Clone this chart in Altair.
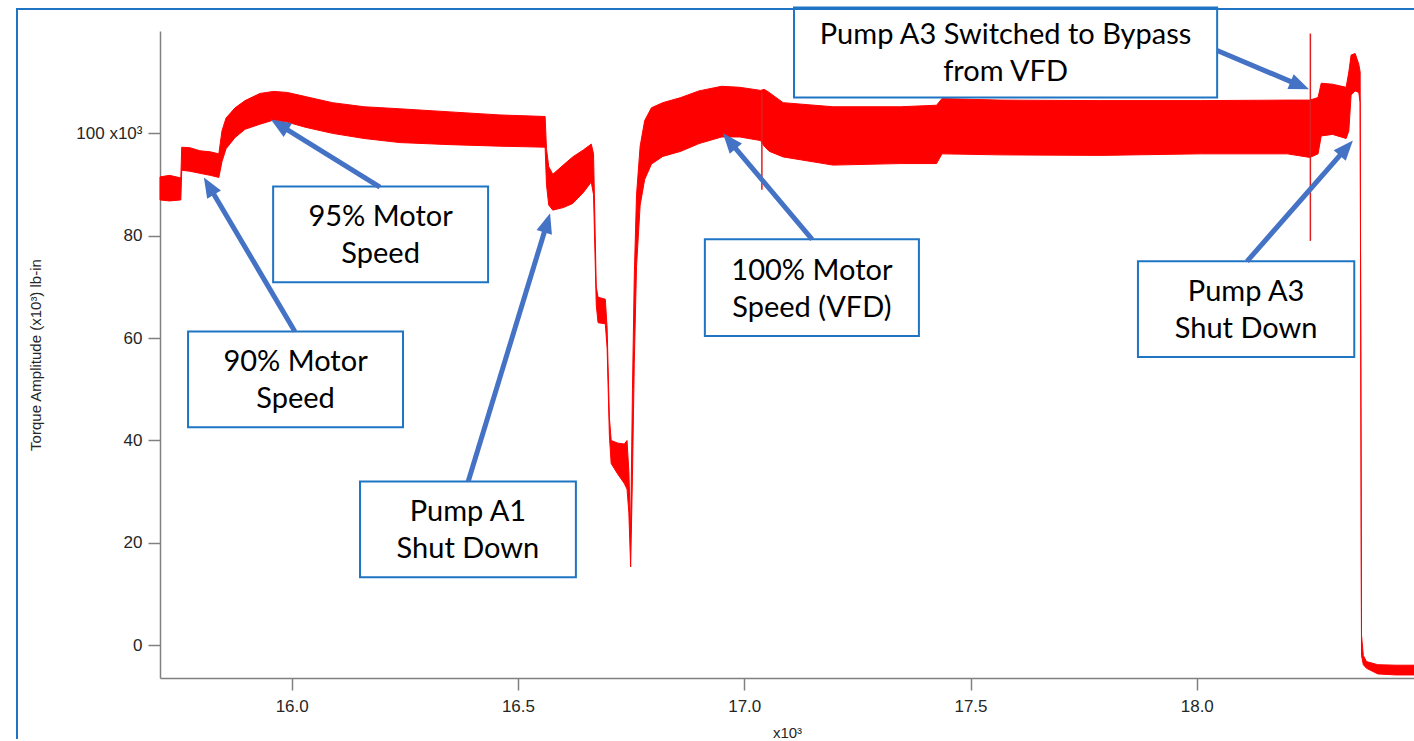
import math

import altair as alt
import pandas as pd

# ---------------------------------------------------------------------------
# Torque amplitude record (time in x10^3 s, torque in x10^3 lb-in).
# The signal oscillates quickly, so each sample stores the lower and upper
# edge of the oscillation band.
# ---------------------------------------------------------------------------
time_k = [
    15.709, 15.730, 15.755, 15.757, 15.775, 15.797, 15.820, 15.839, 15.846, 15.855,
    15.875, 15.897, 15.930, 15.960, 15.990, 16.030, 16.090, 16.160, 16.239, 16.350,
    16.460, 16.560, 16.563, 16.568, 16.577, 16.600, 16.621, 16.645, 16.662, 16.667,
    16.673, 16.677, 16.693, 16.697, 16.702, 16.706, 16.720, 16.735, 16.741, 16.745,
    16.749, 16.753, 16.757, 16.762, 16.770, 16.780, 16.795, 16.820, 16.860, 16.900,
    16.950, 16.990, 17.036, 17.044, 17.055, 17.086, 17.196, 17.345, 17.425, 17.437,
    17.565, 17.787, 18.008, 18.200, 18.250, 18.268, 18.275, 18.300, 18.330, 18.336,
    18.341, 18.350, 18.358, 18.361, 18.364, 18.368, 18.375, 18.400, 18.440, 18.480,
]
torque_low = [
    87.0, 86.8, 87.0, 92.8, 92.6, 92.2, 91.8, 91.4, 94.5, 97.0,
    99.2, 100.8, 101.8, 102.6, 102.2, 101.2, 100.0, 99.0, 98.2, 97.8,
    97.5, 97.3, 90.0, 86.0, 85.0, 85.5, 86.3, 88.5, 90.5, 88.0,
    66.5, 63.0, 62.8, 58.0, 41.0, 35.5, 33.5, 31.6, 30.5, 26.0,
    15.3, 33.0, 55.0, 74.0, 86.0, 91.0, 94.0, 95.5, 96.5, 98.0,
    99.3, 99.3, 98.6, 97.5, 96.5, 95.4, 93.8, 94.1, 94.1, 96.0,
    95.8, 95.7, 96.0, 96.0, 95.3, 96.0, 99.5, 99.8, 99.0, 100.5,
    107.5, 108.3, 108.0, 106.0, -2.0, -3.8, -4.5, -5.6, -5.8, -5.8,
]
torque_high = [
    91.5, 91.8, 91.3, 97.3, 97.2, 96.6, 96.4, 96.0, 100.5, 103.0,
    105.0, 106.4, 107.8, 108.2, 108.0, 107.2, 106.0, 105.2, 104.8, 104.2,
    103.6, 103.3, 97.0, 93.5, 92.0, 93.8, 95.4, 96.8, 97.9, 96.0,
    70.0, 68.0, 67.6, 62.0, 44.5, 40.0, 39.5, 39.3, 40.0, 34.0,
    22.0, 50.0, 72.0, 88.0, 97.5, 102.5, 105.0, 106.0, 107.0, 108.3,
    109.2, 109.0, 108.4, 108.6, 108.0, 106.0, 105.2, 105.2, 105.5, 106.8,
    106.5, 106.4, 106.4, 106.5, 106.5, 107.0, 109.8, 109.6, 109.0, 112.0,
    115.3, 115.6, 113.5, 112.0, 2.0, -2.0, -3.2, -3.8, -3.9, -3.9,
]

# Isolated transients reaching outside the band
spike_time = [17.039, 18.251]
spike_low = [89.0, 79.0]
spike_high = [108.0, 119.5]

# Event call-outs: box corners and arrow (box edge -> signal)
note_text = [
    "95% Motor\nSpeed",
    "90% Motor\nSpeed",
    "Pump A1\nShut Down",
    "100% Motor\nSpeed (VFD)",
    "Pump A3 Switched to Bypass\nfrom VFD",
    "Pump A3\nShut Down",
]
note_x1 = [15.959, 15.771, 16.151, 16.913, 17.110, 17.870]
note_x2 = [16.434, 16.246, 16.628, 17.386, 18.045, 18.348]
note_top = [89.6, 61.3, 32.0, 79.3, 124.6, 75.0]
note_bottom = [70.9, 42.6, 13.3, 60.4, 107.0, 56.3]
arrow_from_x = [16.195, 16.007, 16.390, 17.150, 18.045, 18.111]
arrow_from_y = [89.5, 61.3, 32.0, 79.3, 116.2, 75.0]
arrow_to_x = [15.954, 15.806, 16.571, 16.953, 18.248, 18.345]
arrow_to_y = [102.7, 91.4, 84.4, 100.0, 108.6, 98.6]

# ---------------------------------------------------------------------------
W, H = 1254, 647
X_DOMAIN = [15.709, 18.48]
Y_DOMAIN = [-6.4, 120.0]
PX_X = W / (X_DOMAIN[1] - X_DOMAIN[0])
PX_Y = H / (Y_DOMAIN[1] - Y_DOMAIN[0])

RED = "#ff0000"
BOX_BLUE = "#1f74c4"
ARROW_BLUE = "#4472c4"
AXIS_GRAY = "#808080"
AXIS_FONT = "Liberation Sans"
NOTE_FONT = "Lato"

xs = alt.Scale(domain=X_DOMAIN, nice=False, zero=False)
ys = alt.Scale(domain=Y_DOMAIN, nice=False, zero=False)

band = pd.DataFrame({"t": time_k, "lo": torque_low, "hi": torque_high})
spikes = pd.DataFrame({"t": spike_time, "lo": spike_low, "hi": spike_high})

notes = pd.DataFrame({
    "label": note_text,
    "x1": note_x1, "x2": note_x2, "y1": note_top, "y2": note_bottom,
})
notes["cx"] = (notes["x1"] + notes["x2"]) / 2
notes["cy"] = (notes["y1"] + notes["y2"]) / 2

# Arrow geometry: shaft stops inside the head, head is rotated along the shaft
rows = []
for fx, fy, tx, ty in zip(arrow_from_x, arrow_from_y, arrow_to_x, arrow_to_y):
    dx = (tx - fx) * PX_X
    dy = -(ty - fy) * PX_Y
    length = math.hypot(dx, dy)
    ux, uy = dx / length, dy / length
    angle = math.degrees(math.atan2(dx, -dy)) % 360
    rows.append({
        "fx": fx, "fy": fy, "tx": tx, "ty": ty,
        "nx": tx - 12 * ux / PX_X, "ny": ty + 12 * uy / PX_Y,
        "ang": angle,
    })
arrows = pd.DataFrame(rows)

x_axis = alt.Axis(
    values=[16.0, 16.5, 17.0, 17.5, 18.0], format=".1f", title="x10³",
    grid=False, tickSize=12, tickColor=AXIS_GRAY, domainColor=AXIS_GRAY,
    domainWidth=1.5, tickWidth=1.5, labelPadding=8, labelFont=AXIS_FONT,
    labelFontSize=17, labelColor="#262626", titleFont=AXIS_FONT,
    titleFontSize=15, titleFontWeight="normal", titleColor="#262626",
    titleBaseline="middle", titleY=54,
)
y_axis = alt.Axis(
    values=[0, 20, 40, 60, 80, 100],
    labelExpr="datum.value == 100 ? '100 x10³' : datum.label",
    title="Torque Amplitude (x10³) lb-in",
    grid=False, tickSize=12, tickColor=AXIS_GRAY, domainColor=AXIS_GRAY,
    domainWidth=1.5, tickWidth=1.5, labelPadding=6, labelFont=AXIS_FONT,
    labelFontSize=17, labelColor="#262626", titleFont=AXIS_FONT,
    titleFontSize=15, titleFontWeight="normal", titleColor="#262626",
    titleBaseline="middle", titleX=-125, titleY=H / 2,
)


def xq(field):
    return alt.X(field, type="quantitative", scale=xs, axis=x_axis)


def yq(field):
    return alt.Y(field, type="quantitative", scale=ys, axis=y_axis)


signal = alt.Chart(band).mark_area(
    fill=RED, stroke=RED, strokeWidth=1, interpolate="linear"
).encode(x=xq("t"), y=yq("lo"), y2="hi:Q")

transients = alt.Chart(spikes).mark_rule(color="#e02020", strokeWidth=1.5).encode(
    x=xq("t"), y=yq("lo"), y2="hi:Q"
)

boxes = alt.Chart(notes).mark_rect(fill="white", stroke=BOX_BLUE, strokeWidth=2).encode(
    x=xq("x1"), x2="x2:Q", y=yq("y1"), y2="y2:Q"
)

labels = alt.Chart(notes).mark_text(
    font=NOTE_FONT, fontSize=29, lineBreak="\n", lineHeight=37,
    align="center", baseline="middle", dy=-17, color="black",
).encode(x=xq("cx"), y=yq("cy"), text="label:N")

shafts = alt.Chart(arrows).mark_rule(
    color=ARROW_BLUE, strokeWidth=5, strokeCap="butt"
).encode(x=xq("fx"), y=yq("fy"), x2="nx:Q", y2="ny:Q")

heads = alt.Chart(arrows).mark_point(
    shape="M0,0L-0.8,2L0.8,2Z", filled=True, fill=ARROW_BLUE,
    strokeWidth=0, size=400, opacity=1,
).encode(
    x=xq("tx"), y=yq("ty"),
    angle=alt.Angle("ang:Q", scale=None),
)

frame = alt.Chart(notes).mark_rect(
    filled=False, stroke=BOX_BLUE, strokeWidth=2
).encode(
    x=alt.value(-143), x2=alt.value(W + 40),
    y=alt.value(-22), y2=alt.value(H + 120),
)

chart = alt.layer(
    signal, transients, boxes, labels, shafts, heads, frame
).properties(
    width=W, height=H,
    autosize=alt.AutoSizeParams(type="none"),
    padding={"left": 160, "top": 31, "right": 0, "bottom": 61},
    background="white",
).configure_view(stroke=None)

chart.save("out.html", embed_options={"renderer": "svg", "actions": False})
